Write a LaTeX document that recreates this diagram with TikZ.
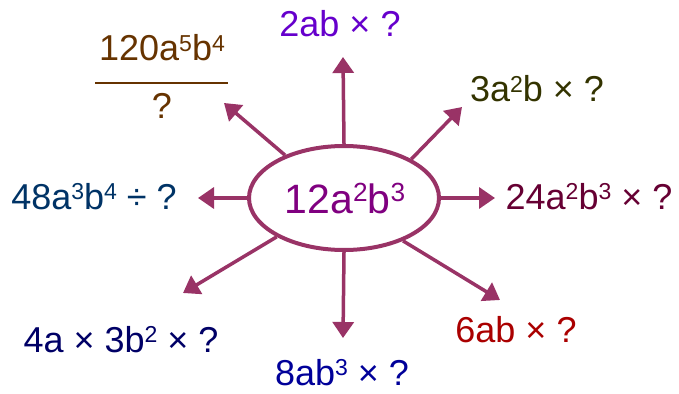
\documentclass[tikz,border=0pt]{standalone}
\usepackage{fontspec}
\setmainfont{Liberation Sans}
\usetikzlibrary{arrows.meta, shapes.geometric}
\definecolor{spokecol}{RGB}{153,51,102}
\definecolor{corecol}{RGB}{128,0,128}
\definecolor{violetcol}{RGB}{102,0,204}
\definecolor{olivecol}{RGB}{51,51,0}
\definecolor{wine}{RGB}{102,0,51}
\definecolor{darkred}{RGB}{170,0,0}
\definecolor{navy}{RGB}{0,0,153}
\definecolor{deepnavy}{RGB}{0,0,102}
\definecolor{steelnavy}{RGB}{0,51,102}
\definecolor{brown}{RGB}{102,51,0}
\newcommand{\pw}[1]{\raisebox{0.27em}{\scalebox{0.64}{#1}}}

\begin{document}
\begin{tikzpicture}[
  x=1pt, y=-1pt,
  spoke/.style={line width=3.5pt, draw=spokecol, -{Triangle[width=21pt, length=16pt]}},
  term/.style={anchor=base, inner sep=0pt, font=\fontsize{36}{40}\selectfont}
]
  \useasboundingbox (0,0) rectangle (679,393);
  % centre
  \node[ellipse, draw=spokecol, line width=4pt, minimum width=190pt, minimum height=104pt, inner sep=0pt] (core) at (344,198) {};
  \node[term, font=\fontsize{41}{44}\selectfont, text=corecol] (coretext) at (345,213) {12a\pw{2}b\pw{3}};

  % arrow tips
  \coordinate (tipN) at (343,57);
  \coordinate (tipNE) at (462,107);
  \coordinate (tipE) at (495,198);
  \coordinate (tipSE) at (500,300);
  \coordinate (tipS) at (343,338);
  \coordinate (tipSW) at (183,293);
  \coordinate (tipW) at (198,198);
  \coordinate (tipNW) at (224,103);

  \draw[spoke] (core.north) -- (tipN);
  \draw[spoke] (core.30) -- (tipNE);
  \draw[spoke] (core.east) -- (tipE);
  \draw[spoke] (core.-36) -- (tipSE);
  \draw[spoke] (core.south) -- (tipS);
  \draw[spoke] (core.210) -- (tipSW);
  \draw[spoke] (core.west) -- (tipW);
  \draw[spoke] (core.144) -- (tipNW);

  % factors
  \node[term, text=violetcol] (top) at (340,37) {2ab × ?};
  \node[term, text=olivecol] (topright) at (537,102) {3a\pw{2}b × ?};
  \node[term, text=wine] (right) at (589,209) {24a\pw{2}b\pw{3} × ?};
  \node[term, text=darkred] (botright) at (516,342) {6ab × ?};
  \node[term, text=navy] (bottom) at (342,385) {8ab\pw{3} × ?};
  \node[term, text=deepnavy] (botleft) at (121,352) {4a × 3b\pw{2} × ?};
  \node[term, text=steelnavy] (left) at (94,209) {48a\pw{3}b\pw{4} ÷ ?};

  % fraction
  \node[term, text=brown] (num) at (162,61) {120a\pw{5}b\pw{4}};
  \node[term, text=brown] (den) at (162,118) {?};
  \coordinate (barL) at (95,83);
  \coordinate (barR) at (228,83);
  \draw[brown, line width=2pt] (barL) -- (barR);
\end{tikzpicture}
\end{document}
